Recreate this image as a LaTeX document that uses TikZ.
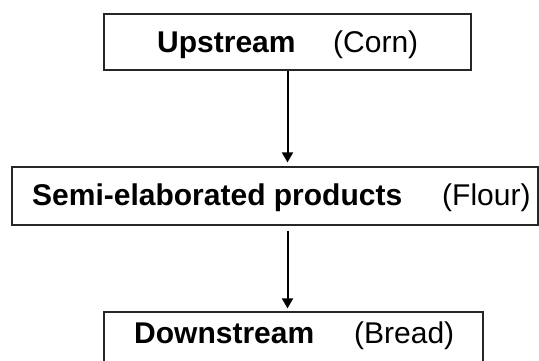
\documentclass[tikz,border=0pt]{standalone}
\usepackage{fontspec}
\setmainfont{Liberation Sans}
\usetikzlibrary{arrows.meta}
\begin{document}
\begin{tikzpicture}[x=1pt, y=-1pt,
  stagebox/.style={draw=black!85, line width=1.2pt, inner sep=0pt, fill=white},
  label/.style={inner sep=0pt, anchor=base west, font=\fontsize{30}{35}\selectfont},
  flow/.style={line width=2pt, -{Triangle[length=10pt, width=11pt]}}]
  \useasboundingbox (0,0) rectangle (539,361);
  \clip (0,0) rectangle (539,361);
  % stage boxes
  \node[stagebox, minimum width=367pt, minimum height=56pt] (up) at (287.5,42) {};
  \node[stagebox, minimum width=526pt, minimum height=58pt] (mid) at (275,196) {};
  \node[stagebox, minimum width=379pt, minimum height=60pt] (down) at (293.5,342) {};
  % stage texts
  \node[label] (upname) at (157,53) {\textbf{Upstream}};
  \node[label] (upex) at (333,53) {(Corn)};
  \node[label] (midname) at (32,205) {\textbf{Semi-elaborated products}};
  \node[label] (midex) at (442,205) {(Flour)};
  \node[label] (downname) at (134,343) {\textbf{Downstream}};
  \node[label] (downex) at (354,343) {(Bread)};
  % flow arrows
  \draw[flow, shorten >=4pt] (up.south) -- (up.south |- mid.north);
  \draw[flow, shorten <=5pt, shorten >=3pt] (up.south |- mid.south) -- (up.south |- down.north);
\end{tikzpicture}
\end{document}
